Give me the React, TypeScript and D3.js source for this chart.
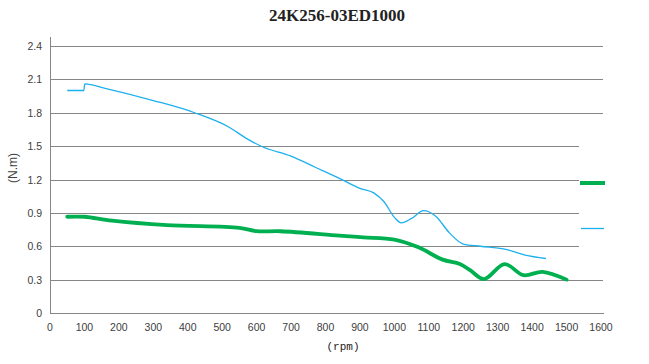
import React, { useRef, useEffect } from 'react';
import * as d3 from 'd3';

// axis ticks
const xTicks = [0, 100, 200, 300, 400, 500, 600, 700, 800, 900, 1000, 1100, 1200, 1300, 1400, 1500, 1600];
const yTicks = [0, 0.3, 0.6, 0.9, 1.2, 1.5, 1.8, 2.1, 2.4];

// thin blue curve
const blueRpm = [50, 98, 101, 160, 300, 420, 520, 570, 620, 700, 770, 840, 900, 940, 970, 1000, 1020, 1050, 1085, 1120, 1160, 1200, 1250, 1320, 1380, 1440];
const blueTorque = [2.0, 2.0, 2.06, 2.02, 1.91, 1.8, 1.67, 1.57, 1.49, 1.41, 1.31, 1.21, 1.12, 1.08, 1.0, 0.86, 0.81, 0.85, 0.92, 0.87, 0.72, 0.62, 0.6, 0.575, 0.52, 0.49];

// thick green curve
const greenRpm = [50, 100, 180, 340, 550, 600, 670, 840, 910, 1000, 1070, 1140, 1190, 1220, 1260, 1320, 1375, 1430, 1500];
const greenTorque = [0.865, 0.865, 0.83, 0.79, 0.765, 0.735, 0.735, 0.695, 0.68, 0.66, 0.59, 0.48, 0.44, 0.385, 0.305, 0.44, 0.34, 0.37, 0.3];

const W = 649;
const H = 364;

export default function App() {
  const svgRef = useRef<SVGSVGElement>(null);

  useEffect(() => {
    const svg = d3.select(svgRef.current);
    svg.selectAll('*').remove();

    const x = d3.scaleLinear().domain([0, 1600]).range([50, 601]);
    const y = d3.scaleLinear().domain([0, 2.4]).range([313, 46]);

    // gridlines
    svg
      .append('g')
      .selectAll('line')
      .data(yTicks.filter((t) => t > 0))
      .join('line')
      .attr('x1', 50)
      .attr('x2', 603)
      .attr('y1', (d) => Math.round(y(d)) + 0.5)
      .attr('y2', (d) => Math.round(y(d)) + 0.5)
      .attr('stroke', '#868686')
      .attr('stroke-width', 1);

    // axes lines
    svg
      .append('line')
      .attr('x1', 50.5)
      .attr('x2', 50.5)
      .attr('y1', 37)
      .attr('y2', 313)
      .attr('stroke', '#868686');
    svg
      .append('line')
      .attr('x1', 50)
      .attr('x2', 604)
      .attr('y1', 313.5)
      .attr('y2', 313.5)
      .attr('stroke', '#868686');

    // tick labels
    svg
      .append('g')
      .selectAll('text')
      .data(yTicks)
      .join('text')
      .attr('x', 42)
      .attr('y', (d) => y(d) + 4)
      .attr('text-anchor', 'end')
      .attr('font-family', 'Liberation Sans, sans-serif')
      .attr('font-size', 10.5)
      .attr('fill', '#404040')
      .text((d) => (d === 0 ? '0' : d3.format('.1f')(d)));

    svg
      .append('g')
      .selectAll('text')
      .data(xTicks)
      .join('text')
      .attr('x', (d) => x(d))
      .attr('y', 331)
      .attr('text-anchor', 'middle')
      .attr('font-family', 'Liberation Sans, sans-serif')
      .attr('font-size', 10.5)
      .attr('fill', '#404040')
      .text((d) => d);

    // white legend box covering the grid on the right
    svg.append('rect').attr('x', 579).attr('y', 132).attr('width', 70).attr('height', 138).attr('fill', '#fff');

    const blueLine = d3
      .line<[number, number]>()
      .x((d) => x(d[0]))
      .y((d) => y(d[1]))
      .curve(d3.curveMonotoneX);
    const greenLine = d3
      .line<[number, number]>()
      .x((d) => x(d[0]))
      .y((d) => y(d[1]))
      .curve(d3.curveCatmullRom.alpha(0.5));

    const blue = blueRpm.map((r, i) => [r, blueTorque[i]] as [number, number]);
    const green = greenRpm.map((r, i) => [r, greenTorque[i]] as [number, number]);

    svg
      .append('path')
      .attr('d', blueLine(blue))
      .attr('fill', 'none')
      .attr('stroke', '#1cb0ee')
      .attr('stroke-width', 1.3);
    svg
      .append('path')
      .attr('d', greenLine(green))
      .attr('fill', 'none')
      .attr('stroke', '#00b050')
      .attr('stroke-width', 3.8)
      .attr('stroke-linejoin', 'round')
      .attr('stroke-linecap', 'round');

    // legend marks (labels are empty)
    svg.append('line').attr('x1', 580).attr('x2', 605).attr('y1', 183).attr('y2', 183).attr('stroke', '#00b050').attr('stroke-width', 4);
    svg.append('line').attr('x1', 581).attr('x2', 604).attr('y1', 228.5).attr('y2', 228.5).attr('stroke', '#1cb0ee').attr('stroke-width', 1.3);

    // titles
    svg
      .append('text')
      .attr('x', 337)
      .attr('y', 21)
      .attr('text-anchor', 'middle')
      .attr('font-family', 'Liberation Serif, serif')
      .attr('font-weight', 'bold')
      .attr('font-size', 17)
      .attr('fill', '#222')
      .text('24K256-03ED1000');

    svg
      .append('text')
      .attr('transform', 'translate(17,168) rotate(-90)')
      .attr('text-anchor', 'middle')
      .attr('font-family', 'Liberation Sans, sans-serif')
      .attr('font-size', 12)
      .attr('fill', '#404040')
      .text('(N.m)');

    svg
      .append('text')
      .attr('x', 343)
      .attr('y', 350)
      .attr('text-anchor', 'middle')
      .attr('font-family', 'Liberation Mono, monospace')
      .attr('font-size', 11)
      .attr('fill', '#222')
      .text('(rpm)');
  }, []);

  return (
    <svg
      ref={svgRef}
      width={W}
      height={H}
      style={{ position: 'absolute', left: 0, top: 0, background: '#fff' }}
    />
  );
}
